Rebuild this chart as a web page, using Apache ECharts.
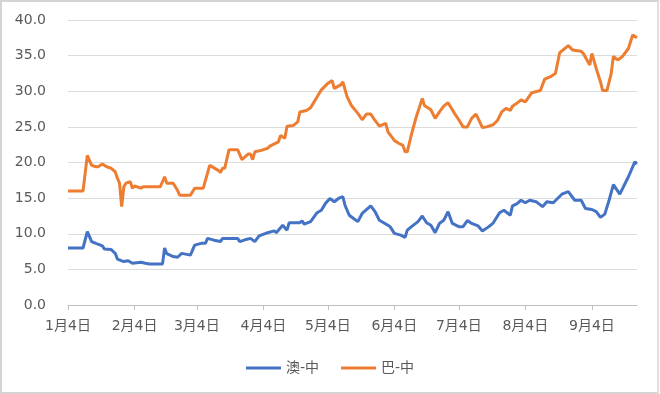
<!DOCTYPE html>
<html>
<head>
<meta charset="utf-8">
<script src="https://cdn.jsdelivr.net/npm/echarts@6/dist/echarts.min.js"></script>
<style>
html,body{margin:0;padding:0;background:#fff;}
#frame{position:absolute;left:0;top:0;width:655px;height:390px;border:2px solid #d4d4d4;border-right-color:#e0e0e0;}
#chart{position:absolute;left:0;top:0;width:660px;height:394px;}
</style>
</head>
<body>
<div id="frame"></div>
<div id="chart"></div>
<script>
// Axis range (calendar days, 2016)
const startDate = '2016-01-04';
const endDate = '2016-09-25';
const seriesNames = ['澳-中', '巴-中'];

// 澳-中
const ausDates = ['1/4','1/11','1/13','1/15','1/17','1/20','1/21','1/24','1/26','1/27','1/30','2/1','2/3','2/4','2/7','2/9','2/11','2/17','2/18','2/19','2/22','2/24','2/26','3/1','3/3','3/6','3/8','3/9','3/12','3/15','3/16','3/20','3/23','3/24','3/27','3/29','3/31','4/2','4/6','4/9','4/10','4/13','4/15','4/16','4/21','4/22','4/23','4/26','4/29','5/1','5/3','5/5','5/7','5/9','5/11','5/12','5/14','5/16','5/18','5/20','5/24','5/26','5/28','6/1','6/2','6/4','6/7','6/9','6/10','6/12','6/15','6/17','6/19','6/21','6/23','6/25','6/27','6/29','7/1','7/4','7/6','7/8','7/10','7/13','7/15','7/18','7/20','7/23','7/25','7/28','7/29','7/31','8/2','8/4','8/6','8/9','8/12','8/14','8/17','8/21','8/24','8/27','8/30','9/1','9/4','9/6','9/8','9/10','9/12','9/14','9/17','9/21','9/24','9/25'];
const ausValues = [8.0,8.0,10.3,8.9,8.65,8.3,7.85,7.8,7.25,6.45,6.1,6.2,5.85,5.9,6.0,5.85,5.75,5.75,8.0,7.2,6.8,6.7,7.25,7.0,8.4,8.65,8.65,9.35,9.1,8.9,9.35,9.35,9.35,8.9,9.2,9.35,8.9,9.7,10.15,10.4,10.15,11.2,10.5,11.55,11.55,11.8,11.35,11.7,12.95,13.3,14.3,14.95,14.5,14.95,15.2,14.0,12.6,12.15,11.7,12.85,13.9,13.1,11.9,11.2,11.0,10.05,9.8,9.5,10.5,11.0,11.7,12.5,11.55,11.2,10.15,11.45,11.9,13.1,11.45,11.0,11.0,11.85,11.45,11.1,10.4,11.0,11.5,12.95,13.3,12.6,13.9,14.2,14.7,14.35,14.7,14.5,13.8,14.5,14.35,15.55,15.9,14.7,14.7,13.55,13.4,13.1,12.3,12.75,14.7,16.9,15.55,18.0,20.1,19.8];

// 巴-中
const braDates = ['1/4','1/11','1/13','1/15','1/17','1/18','1/20','1/22','1/24','1/26','1/27','1/28','1/29','1/30','1/31','2/2','2/3','2/4','2/7','2/8','2/16','2/18','2/19','2/22','2/24','2/25','3/1','3/3','3/7','3/10','3/14','3/15','3/16','3/17','3/19','3/22','3/23','3/25','3/28','3/29','3/30','3/31','4/3','4/6','4/7','4/11','4/12','4/14','4/15','4/18','4/20','4/21','4/24','4/26','4/29','5/1','5/4','5/6','5/7','5/10','5/11','5/13','5/15','5/18','5/20','5/22','5/24','5/26','5/28','5/31','6/1','6/4','6/6','6/8','6/9','6/10','6/12','6/14','6/17','6/18','6/21','6/23','6/25','6/27','6/29','7/2','7/4','7/6','7/8','7/10','7/12','7/13','7/15','7/17','7/20','7/22','7/24','7/26','7/28','7/29','7/31','8/2','8/4','8/7','8/11','8/13','8/16','8/18','8/20','8/24','8/26','8/30','8/31','9/3','9/4','9/6','9/8','9/9','9/11','9/13','9/14','9/16','9/18','9/21','9/23','9/25'];
const braValues = [16.0,16.0,21.0,19.6,19.4,19.4,19.8,19.4,19.2,18.7,17.8,17.1,13.8,16.6,17.1,17.3,16.4,16.7,16.4,16.6,16.6,18.0,17.1,17.1,16.1,15.4,15.4,16.4,16.4,19.6,18.9,18.6,19.2,19.2,21.8,21.8,21.8,20.4,21.2,21.2,20.4,21.5,21.7,22.0,22.3,22.9,23.8,23.4,25.1,25.2,25.7,27.1,27.3,27.7,29.2,30.2,31.1,31.5,30.4,30.9,31.3,29.2,28.0,26.9,26.0,26.8,26.8,25.9,25.1,25.5,24.3,23.1,22.7,22.4,21.5,21.5,24.0,26.2,29.0,28.0,27.4,26.2,27.1,27.9,28.4,26.9,26.0,25.0,25.0,26.2,26.8,26.2,24.9,25.0,25.3,25.9,27.1,27.6,27.3,27.9,28.3,28.8,28.5,29.8,30.1,31.7,32.1,32.5,35.4,36.4,35.8,35.6,35.3,33.7,35.3,33.2,31.3,30.1,30.1,32.5,34.9,34.4,34.8,36.0,37.9,37.5];

// y-axis
const yMin = 0, yMax = 40, yStep = 5;

// Build daily category list
const categories = [];
const idxOf = {};
(function(){
  const d = new Date(startDate + 'T00:00:00Z');
  const e = new Date(endDate + 'T00:00:00Z');
  while (d <= e) {
    const m = d.getUTCMonth() + 1, day = d.getUTCDate();
    idxOf[m + '/' + day] = categories.length;
    categories.push(m + '月' + day + '日');
    d.setUTCDate(d.getUTCDate() + 1);
  }
})();
function toData(dates, vals){ return dates.map((s,i)=>[idxOf[s], vals[i]]); }
const isFourth = (i, v) => /^\d+月4日$/.test(v);

const font = '"DejaVu Sans", "Noto Sans CJK SC", sans-serif';
const chart = echarts.init(document.getElementById('chart'));
chart.setOption({
  animation: false,
  backgroundColor: 'transparent',
  color: ['#4472C4', '#ED7D31'],
  grid: { left: 68, right: 23, top: 20, bottom: 89 },
  xAxis: {
    type: 'category',
    data: categories,
    boundaryGap: false,
    axisLine: { lineStyle: { color: '#bfbfbf', width: 1 } },
    axisTick: { show: true, interval: isFourth, length: 5, lineStyle: { color: '#bfbfbf' } },
    axisLabel: { interval: isFourth, color: '#595959', fontSize: 14, fontFamily: font, margin: 14 },
    splitLine: { show: false }
  },
  yAxis: {
    type: 'value',
    min: yMin, max: yMax, interval: yStep,
    axisLine: { show: false },
    axisTick: { show: false },
    axisLabel: { color: '#595959', fontSize: 14, fontFamily: font, margin: 22, formatter: v => v.toFixed(1) },
    splitLine: { lineStyle: { color: '#dcdcdc', width: 1 } }
  },
  legend: {
    data: seriesNames,
    top: 356,
    left: 'center',
    icon: 'rect',
    itemWidth: 35,
    itemHeight: 3,
    itemGap: 22,
    textStyle: { color: '#595959', fontSize: 14, fontFamily: font }
  },
  series: [
    { name: seriesNames[0], type: 'line', data: toData(ausDates, ausValues), showSymbol: false, symbol: 'none',
      lineStyle: { width: 3, color: '#4472C4' }, itemStyle: { color: '#4472C4' } },
    { name: seriesNames[1], type: 'line', data: toData(braDates, braValues), showSymbol: false, symbol: 'none',
      lineStyle: { width: 3, color: '#ED7D31' }, itemStyle: { color: '#ED7D31' } }
  ]
});
</script>
</body>
</html>
